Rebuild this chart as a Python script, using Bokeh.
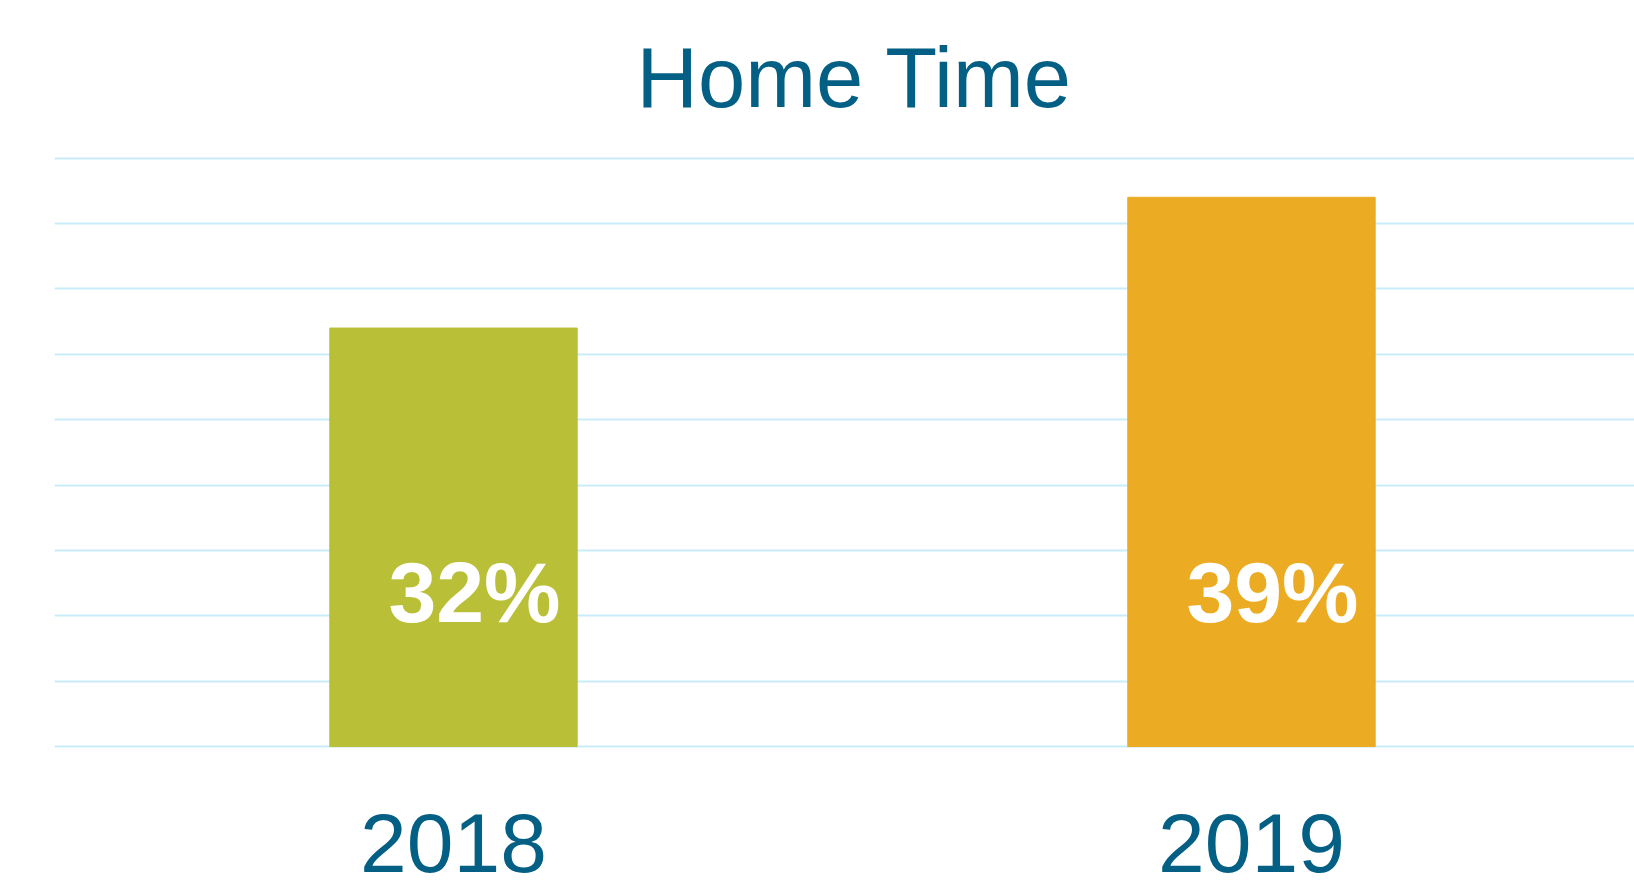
from bokeh.plotting import figure
from bokeh.models import Range1d, FixedTicker, Title, ColumnDataSource
from bokeh.core.properties import value
from bokeh.embed import file_html
from bokeh.resources import INLINE

# ---- data ----
years = ["2018", "2019"]
bar_values = [32, 42]          # bar heights read against the 5-pt grid
bar_labels = ["32%", "39%"]    # labels printed on the bars
bar_colors = ["#b9bf36", "#ebab22"]
grid_ticks = [0, 5, 10, 15, 20, 25, 30, 35, 40, 45]

TEXT_COLOR = "#045f84"
FONT = "Liberation Sans"
LABEL_Y = 11.8

positions = [i + 0.5 for i in range(len(years))]
src = ColumnDataSource(dict(x=positions, top=bar_values, label=bar_labels,
                            color=bar_colors, ly=[LABEL_Y] * len(years)))

p = figure(width=1634, height=886,
           x_range=Range1d(0, 1.98), y_range=Range1d(-0.3, 45.5),
           output_backend="svg", toolbar_location=None,
           min_border_left=54, min_border_right=0,
           min_border_top=151, min_border_bottom=136,
           outline_line_color=None, background_fill_color="white",
           border_fill_color="white")

title = Title(text="Home Time", text_font_size="85px", text_font=FONT,
              text_font_style="normal", text_color=TEXT_COLOR,
              text_line_height=0.8,
              align="left", offset=582, standoff=54)
p.add_layout(title, "above")

p.vbar(x="x", top="top", width=0.31, color="color", source=src)
p.text(x="x", y="ly", text="label", source=src,
       text_font=value(FONT), text_font_style="bold", text_font_size="86px",
       text_color="white", text_align="center", text_baseline="alphabetic",
       x_offset=21)

p.yaxis.visible = False
p.yaxis.ticker = FixedTicker(ticks=grid_ticks)
p.ygrid.ticker = FixedTicker(ticks=grid_ticks)
p.ygrid.grid_line_color = "#c9ecfa"
p.ygrid.grid_line_width = 2
p.xgrid.visible = False

p.xaxis.ticker = FixedTicker(ticks=positions)
p.xaxis.major_label_overrides = {pos: y for pos, y in zip(positions, years)}
p.xaxis.axis_line_color = None
p.xaxis.major_tick_line_color = None
p.xaxis.minor_tick_line_color = None
p.xaxis.major_label_text_font = FONT
p.xaxis.major_label_text_font_size = "84px"
p.xaxis.major_label_text_color = TEXT_COLOR
p.xaxis.major_label_standoff = 57

open("out.html", "w").write(file_html(p, INLINE))
